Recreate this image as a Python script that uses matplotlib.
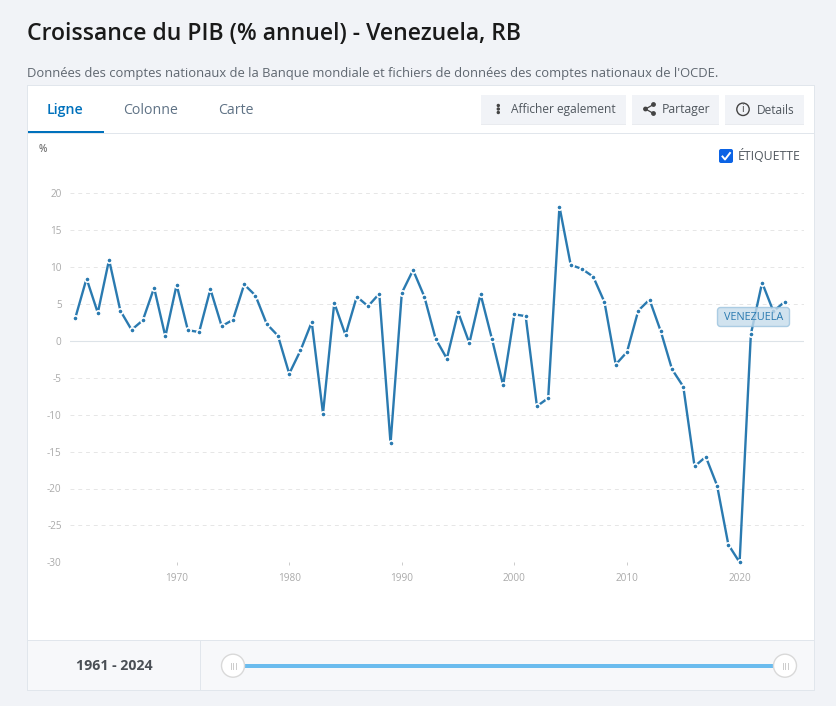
import numpy as np
import matplotlib
matplotlib.use('Agg')
import matplotlib.pyplot as plt
from matplotlib.patches import Rectangle, FancyBboxPatch, Circle

plt.rcParams['font.family'] = ['Open Sans', 'DejaVu Sans']
plt.rcParams['axes.unicode_minus'] = False

# annual GDP growth
years = np.arange(1961, 2025)
growth = [3.1, 8.45, 3.8, 11.0, 4.1, 1.5, 2.8, 7.2, 0.6, 7.6,
          1.45, 1.2, 7.0, 2.0, 2.85, 7.65, 6.15, 2.3, 0.7, -4.45,
          -1.3, 2.55, -9.85, 5.15, 0.8, 6.0, 4.7, 6.4, -13.9, 6.5,
          9.6, 6.0, 0.3, -2.4, 3.9, -0.3, 6.3, 0.3, -6.0, 3.6,
          3.35, -8.85, -7.75, 18.2, 10.3, 9.75, 8.7, 5.25, -3.2, -1.5,
          4.1, 5.6, 1.3, -3.85, -6.2, -17.0, -15.7, -19.6, -27.6, -30.0,
          0.9, 7.9, 4.0, 5.3]
y_ticks = [-30, -25, -20, -15, -10, -5, 0, 5, 10, 15, 20]
x_ticks = [1970, 1980, 1990, 2000, 2010, 2020]

title = 'Croissance du PIB (% annuel) - Venezuela, RB'
subtitle = "Données des comptes nationaux de la Banque mondiale et fichiers de données des comptes nationaux de l'OCDE."
tabs = ['Ligne', 'Colonne', 'Carte']
period = '1961 - 2024'

W, H = 836, 706
LINE = '#2a7ab0'
PAGE = '#f1f3f7'
BORDER = '#e1e6ec'
GREY = '#aaaaaa'
ICON = '#444444'

fig = plt.figure(figsize=(W / 100, H / 100), dpi=100, facecolor=PAGE)


def pixel_axes(z):
    a = fig.add_axes([0, 0, 1, 1], zorder=z)
    a.set_xlim(0, W)
    a.set_ylim(H, 0)
    a.axis('off')
    return a


def box(a, x0, y0, x1, y1, color, **kw):
    a.add_patch(Rectangle((x0, y0), x1 - x0, y1 - y0, facecolor=color, edgecolor='none', **kw))


bg = pixel_axes(0)

# card, header and footer
box(bg, 27, 85, 815, 691, BORDER)
box(bg, 28, 86, 814, 690, 'white')
box(bg, 28, 133, 814, 134, BORDER)
box(bg, 28, 640, 814, 690, '#f7f8fa')
box(bg, 28, 640, 814, 641, BORDER)
box(bg, 200, 640, 201, 690, BORDER)
box(bg, 28, 131, 104, 133, '#0071bc')

bg.text(27, 34, title, fontsize=16.55, fontweight=600, color='#1a1a1a', va='center')
bg.text(27, 74, subtitle, fontsize=9.35, color='#5f6770', va='center')

bg.text(65.5, 110, tabs[0], fontsize=10.2, fontweight=600, color='#0071bc', va='center', ha='center')
bg.text(151, 110, tabs[1], fontsize=10.2, color='#5f7285', va='center', ha='center')
bg.text(236, 110, tabs[2], fontsize=10.2, color='#5f7285', va='center', ha='center')

# buttons
for x0, x1 in [(481, 626), (632, 719), (725, 804)]:
    box(bg, x0, 95, x1, 125, '#e9ebef')
    box(bg, x0, 95, x1, 124, PAGE)
bg.text(511, 110, 'Afficher egalement', fontsize=8.6, color='#50575e', va='center')
bg.text(661.5, 110, 'Partager', fontsize=8.8, color='#50575e', va='center')
bg.text(757, 110, 'Details', fontsize=8.6, color='#50575e', va='center')

# kebab, share and info icons
for yy in [105.5, 109, 112.5]:
    bg.add_patch(Circle((498.3, yy), 1.0, color=ICON))
bg.plot([653.5, 645.5, 653.5], [104.5, 109, 113.5], color=ICON, lw=0.9)
for xx, yy in [(653.5, 104.5), (645.5, 109), (653.5, 113.5)]:
    bg.add_patch(Circle((xx, yy), 1.7, color=ICON))
bg.add_patch(Circle((743, 109.3), 6.2, facecolor='none', edgecolor=ICON, lw=1.0))
bg.text(743, 109.5, 'i', fontsize=7.5, color=ICON, ha='center', va='center')

# label checkbox
bg.add_patch(FancyBboxPatch((719.5, 149.5), 13, 13, boxstyle='round,pad=0.5,rounding_size=2',
                            facecolor='#0b63e5', edgecolor='none'))
bg.plot([722.5, 725, 730], [156.5, 159.5, 153], color='white', lw=1.4)
bg.text(738, 155.5, 'ÉTIQUETTE', fontsize=8.8, color='#50575e', va='center')

bg.text(43, 149, '%', fontsize=7, fontweight=600, color='#777777', va='center', ha='center')

# footer period and slider
bg.text(114, 665.5, period, fontsize=10.2, fontweight=700, color='#4a4f55', va='center', ha='center')
box(bg, 240, 664, 778, 668, '#6bbcee')
for cx in [233, 785]:
    bg.add_patch(Circle((cx, 665.7), 11.5, facecolor='white', edgecolor='#d9d9d9', lw=1, zorder=3))
    for dx in [-2.5, 0, 2.5]:
        bg.plot([cx + dx, cx + dx], [662.5, 669], color='#cccccc', lw=0.7, zorder=4)

# data axes placed so that ticks land where they do in the reference
left, right, top, bottom = 70, 804, 193.3, 562.3
ax = fig.add_axes([left / W, 1 - bottom / H, (right - left) / W, (bottom - top) / H], zorder=1)
ax.patch.set_alpha(0)
ax.set_xlim(1960.53, 2025.72)
ax.set_ylim(-30, 20)
for s in ax.spines.values():
    s.set_visible(False)

ax.set_yticks(y_ticks)
ax.set_xticks(x_ticks)
ax.tick_params(axis='y', length=0, pad=6, labelsize=7.2, labelcolor=GREY)
ax.tick_params(axis='x', length=2.5, width=0.7, color='#cccccc', pad=5, labelsize=7.2, labelcolor=GREY)
ax.grid(axis='y', color='#e6e6e6', lw=0.7, dashes=(4, 4))
ax.axhline(0, color='#dde3e8', lw=0.8)
ax.set_axisbelow(True)

ax.plot(years, growth, color=LINE, lw=1.7, marker='o', ms=3.8, mfc=LINE, mec='white', mew=1.2,
        clip_on=False, solid_joinstyle='miter')

# series label sits over the line
top_ax = pixel_axes(2)
top_ax.patch.set_alpha(0)
top_ax.add_patch(FancyBboxPatch((717.5, 307.5), 72, 19, boxstyle='round,pad=0,rounding_size=3',
                                facecolor='#c6dcec', edgecolor='#9cc3de', lw=1, alpha=0.8))
top_ax.text(753.5, 317, 'VENEZUELA', fontsize=7.8, color=LINE, ha='center', va='center')

fig.savefig('out.png', dpi=100, facecolor=PAGE)
